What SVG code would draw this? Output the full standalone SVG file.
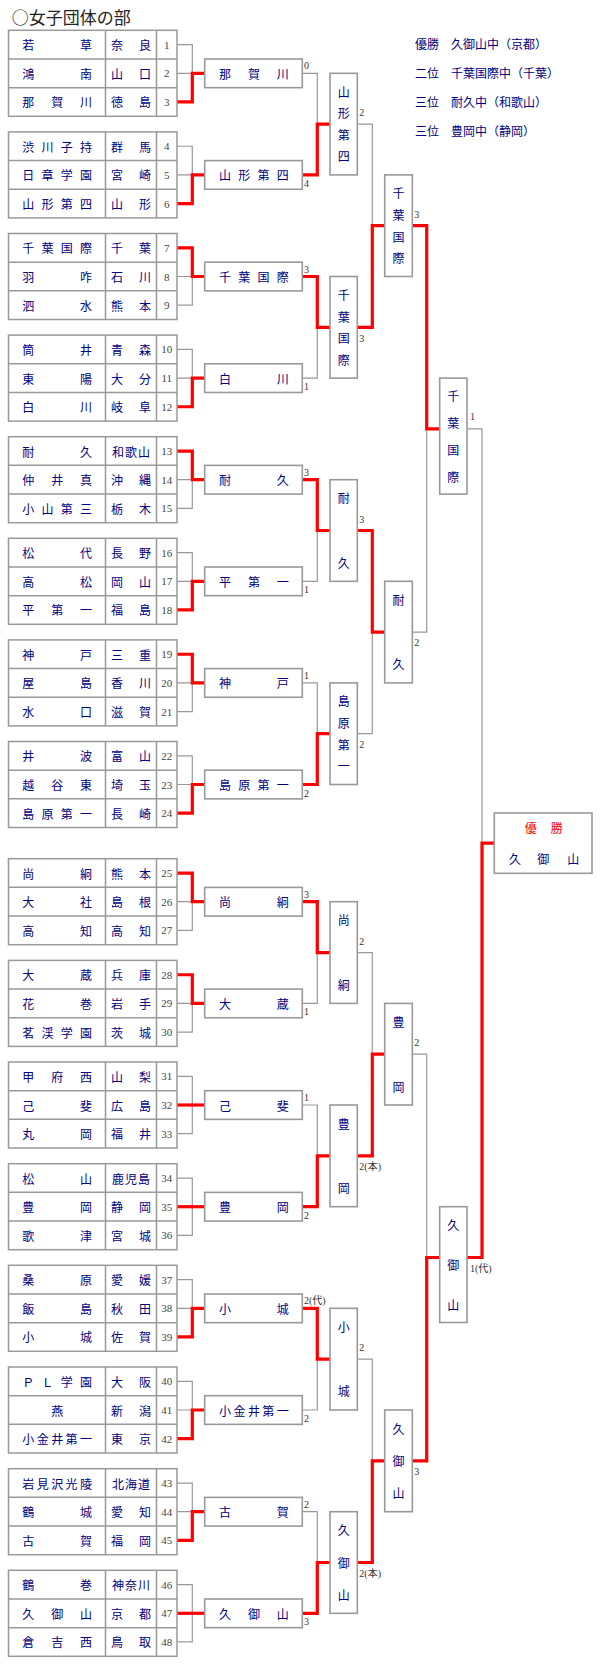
<svg xmlns="http://www.w3.org/2000/svg" width="600" height="1680" viewBox="0 0 600 1680">
<style>
.cell{fill:#fff;stroke:#999;stroke-width:1.5}
.grid{fill:none;stroke:#999;stroke-width:1.5}
.bx{fill:#fff;stroke:#999;stroke-width:1.6}
.nm{font-family:"Noto Sans CJK JP",sans-serif;font-size:12px;fill:#000080;text-anchor:middle;dominant-baseline:central}
.no{font-family:"Liberation Serif",serif;font-size:11px;fill:#444;text-anchor:middle;dominant-baseline:central}
.sc{font-family:"Liberation Serif","Noto Sans CJK JP",serif;font-size:10px;fill:#333}
.gl{fill:none;stroke:#999;stroke-width:1.2}
.rd{fill:none;stroke:#f00;stroke-width:3.2;stroke-linejoin:miter}
.ttl{font-family:"Noto Sans CJK JP",sans-serif;font-size:17px;fill:#222;dominant-baseline:central}
.res{font-family:"Noto Sans CJK JP",sans-serif;font-size:12px;fill:#000080;dominant-baseline:central}
</style>
<rect width="600" height="1680" fill="#fff"/>
<text class="ttl" x="11.7" y="16.7">○女子団体の部</text>
<g id="results">
<text class="res" x="415" y="43.3">優勝　久御山中（京都）</text>
<text class="res" x="415" y="72.7">二位　千葉国際中（千葉）</text>
<text class="res" x="415" y="101.3">三位　耐久中（和歌山）</text>
<text class="res" x="415" y="130">三位　豊岡中（静岡）</text>
</g>
<g id="connectors">
<g transform="translate(0,30.3)"><path class="gl" d="M177 14.33H192.3V71.67H177M177 43H204.7"/><path class="rd" d="M177 71.67H192.3V43H204.7"/></g>
<g transform="translate(0,131.9)"><path class="gl" d="M177 14.33H192.3V71.67H177M177 43H204.7"/><path class="rd" d="M177 71.67H192.3V43H204.7"/></g>
<g transform="translate(0,233.5)"><path class="gl" d="M177 14.33H192.3V71.67H177M177 43H204.7"/><path class="rd" d="M177 14.33H192.3V43H204.7"/></g>
<g transform="translate(0,335.1)"><path class="gl" d="M177 14.33H192.3V71.67H177M177 43H204.7"/><path class="rd" d="M177 71.67H192.3V43H204.7"/></g>
<g transform="translate(0,436.7)"><path class="gl" d="M177 14.33H192.3V71.67H177M177 43H204.7"/><path class="rd" d="M177 14.33H192.3V43H204.7"/></g>
<g transform="translate(0,538.3)"><path class="gl" d="M177 14.33H192.3V71.67H177M177 43H204.7"/><path class="rd" d="M177 71.67H192.3V43H204.7"/></g>
<g transform="translate(0,639.9)"><path class="gl" d="M177 14.33H192.3V71.67H177M177 43H204.7"/><path class="rd" d="M177 14.33H192.3V43H204.7"/></g>
<g transform="translate(0,741.5)"><path class="gl" d="M177 14.33H192.3V71.67H177M177 43H204.7"/><path class="rd" d="M177 71.67H192.3V43H204.7"/></g>
<g transform="translate(0,858.7)"><path class="gl" d="M177 14.33H192.3V71.67H177M177 43H204.7"/><path class="rd" d="M177 14.33H192.3V43H204.7"/></g>
<g transform="translate(0,960.4)"><path class="gl" d="M177 14.33H192.3V71.67H177M177 43H204.7"/><path class="rd" d="M177 14.33H192.3V43H204.7"/></g>
<g transform="translate(0,1062)"><path class="gl" d="M177 14.33H192.3V71.67H177M177 43H204.7"/><path class="rd" d="M177 43H204.7"/></g>
<g transform="translate(0,1163.7)"><path class="gl" d="M177 14.33H192.3V71.67H177M177 43H204.7"/><path class="rd" d="M177 43H204.7"/></g>
<g transform="translate(0,1265.3)"><path class="gl" d="M177 14.33H192.3V71.67H177M177 43H204.7"/><path class="rd" d="M177 71.67H192.3V43H204.7"/></g>
<g transform="translate(0,1367)"><path class="gl" d="M177 14.33H192.3V71.67H177M177 43H204.7"/><path class="rd" d="M177 71.67H192.3V43H204.7"/></g>
<g transform="translate(0,1468.7)"><path class="gl" d="M177 14.33H192.3V71.67H177M177 43H204.7"/><path class="rd" d="M177 71.67H192.3V43H204.7"/></g>
<g transform="translate(0,1570.3)"><path class="gl" d="M177 14.33H192.3V71.67H177M177 43H204.7"/><path class="rd" d="M177 43H204.7"/></g>
<path class="gl" d="M302.3 73.3H317.3V174.9H302.3M317.3 124.1H330"/><path class="rd" d="M302.3 174.9H317.3V124.1H330"/>
<path class="gl" d="M302.3 276.5H317.3V378.1H302.3M317.3 327.3H330"/><path class="rd" d="M302.3 276.5H317.3V327.3H330"/>
<path class="gl" d="M302.3 479.7H317.3V581.3H302.3M317.3 530.5H330"/><path class="rd" d="M302.3 479.7H317.3V530.5H330"/>
<path class="gl" d="M302.3 682.9H317.3V784.5H302.3M317.3 733.7H330"/><path class="rd" d="M302.3 784.5H317.3V733.7H330"/>
<path class="gl" d="M302.3 901.7H317.3V1003.4H302.3M317.3 952.55H330"/><path class="rd" d="M302.3 901.7H317.3V952.55H330"/>
<path class="gl" d="M302.3 1105H317.3V1206.7H302.3M317.3 1155.85H330"/><path class="rd" d="M302.3 1206.7H317.3V1155.85H330"/>
<path class="gl" d="M302.3 1308.3H317.3V1410H302.3M317.3 1359.15H330"/><path class="rd" d="M302.3 1308.3H317.3V1359.15H330"/>
<path class="gl" d="M302.3 1511.7H317.3V1613.3H302.3M317.3 1562.5H330"/><path class="rd" d="M302.3 1613.3H317.3V1562.5H330"/>
<path class="gl" d="M357.3 124.1H372.3V327.3H357.3M372.3 225.7H384.7"/><path class="rd" d="M357.3 327.3H372.3V225.7H384.7"/>
<path class="gl" d="M357.3 530.5H372.3V733.7H357.3M372.3 632.1H384.7"/><path class="rd" d="M357.3 530.5H372.3V632.1H384.7"/>
<path class="gl" d="M357.3 952.55H372.3V1155.85H357.3M372.3 1054.2H384.7"/><path class="rd" d="M357.3 1155.85H372.3V1054.2H384.7"/>
<path class="gl" d="M357.3 1359.15H372.3V1562.5H357.3M372.3 1460.8H384.7"/><path class="rd" d="M357.3 1562.5H372.3V1460.8H384.7"/>
<path class="gl" d="M412.3 225.7H426.7V632.1H412.3M426.7 428.9H439.7"/><path class="rd" d="M412.3 225.7H426.7V428.9H439.7"/>
<path class="gl" d="M412.3 1054.2H426.7V1460.8H412.3M426.7 1257.5H439.7"/><path class="rd" d="M412.3 1460.8H426.7V1257.5H439.7"/>
<path class="gl" d="M467 428.9H482V1257.5H467M482 843.2H494.3"/><path class="rd" d="M467 1257.5H482V843.2H494.3"/>
</g>
<g id="pool1" transform="translate(0,30.3)"><rect class="cell" x="8.5" y="0" width="168.5" height="86"/><path class="grid" d="M8.5 28.67H177M8.5 57.33H177M105.5 0V86M156.5 0V86"/>
<text class="nm" x="28.3 86" y="14.33">若草</text><text class="nm" x="117 145" y="14.33">奈良</text><text class="no" x="166.7" y="14.33">1</text>
<text class="nm" x="28.3 86" y="43">鴻南</text><text class="nm" x="117 145" y="43">山口</text><text class="no" x="166.7" y="43">2</text>
<text class="nm" x="28.3 57.2 86" y="71.67">那賀川</text><text class="nm" x="117 145" y="71.67">徳島</text><text class="no" x="166.7" y="71.67">3</text></g>
<g id="pool2" transform="translate(0,131.9)"><rect class="cell" x="8.5" y="0" width="168.5" height="86"/><path class="grid" d="M8.5 28.67H177M8.5 57.33H177M105.5 0V86M156.5 0V86"/>
<text class="nm" x="28.3 47.5 66.8 86" y="14.33">渋川子持</text><text class="nm" x="117 145" y="14.33">群馬</text><text class="no" x="166.7" y="14.33">4</text>
<text class="nm" x="28.3 47.5 66.8 86" y="43">日章学園</text><text class="nm" x="117 145" y="43">宮崎</text><text class="no" x="166.7" y="43">5</text>
<text class="nm" x="28.3 47.5 66.8 86" y="71.67">山形第四</text><text class="nm" x="117 145" y="71.67">山形</text><text class="no" x="166.7" y="71.67">6</text></g>
<g id="pool3" transform="translate(0,233.5)"><rect class="cell" x="8.5" y="0" width="168.5" height="86"/><path class="grid" d="M8.5 28.67H177M8.5 57.33H177M105.5 0V86M156.5 0V86"/>
<text class="nm" x="28.3 47.5 66.8 86" y="14.33">千葉国際</text><text class="nm" x="117 145" y="14.33">千葉</text><text class="no" x="166.7" y="14.33">7</text>
<text class="nm" x="28.3 86" y="43">羽咋</text><text class="nm" x="117 145" y="43">石川</text><text class="no" x="166.7" y="43">8</text>
<text class="nm" x="28.3 86" y="71.67">泗水</text><text class="nm" x="117 145" y="71.67">熊本</text><text class="no" x="166.7" y="71.67">9</text></g>
<g id="pool4" transform="translate(0,335.1)"><rect class="cell" x="8.5" y="0" width="168.5" height="86"/><path class="grid" d="M8.5 28.67H177M8.5 57.33H177M105.5 0V86M156.5 0V86"/>
<text class="nm" x="28.3 86" y="14.33">筒井</text><text class="nm" x="117 145" y="14.33">青森</text><text class="no" x="166.7" y="14.33">10</text>
<text class="nm" x="28.3 86" y="43">東陽</text><text class="nm" x="117 145" y="43">大分</text><text class="no" x="166.7" y="43">11</text>
<text class="nm" x="28.3 86" y="71.67">白川</text><text class="nm" x="117 145" y="71.67">岐阜</text><text class="no" x="166.7" y="71.67">12</text></g>
<g id="pool5" transform="translate(0,436.7)"><rect class="cell" x="8.5" y="0" width="168.5" height="86"/><path class="grid" d="M8.5 28.67H177M8.5 57.33H177M105.5 0V86M156.5 0V86"/>
<text class="nm" x="28.3 86" y="14.33">耐久</text><text class="nm" x="118 131 144" y="14.33">和歌山</text><text class="no" x="166.7" y="14.33">13</text>
<text class="nm" x="28.3 57.2 86" y="43">仲井真</text><text class="nm" x="117 145" y="43">沖縄</text><text class="no" x="166.7" y="43">14</text>
<text class="nm" x="28.3 47.5 66.8 86" y="71.67">小山第三</text><text class="nm" x="117 145" y="71.67">栃木</text><text class="no" x="166.7" y="71.67">15</text></g>
<g id="pool6" transform="translate(0,538.3)"><rect class="cell" x="8.5" y="0" width="168.5" height="86"/><path class="grid" d="M8.5 28.67H177M8.5 57.33H177M105.5 0V86M156.5 0V86"/>
<text class="nm" x="28.3 86" y="14.33">松代</text><text class="nm" x="117 145" y="14.33">長野</text><text class="no" x="166.7" y="14.33">16</text>
<text class="nm" x="28.3 86" y="43">高松</text><text class="nm" x="117 145" y="43">岡山</text><text class="no" x="166.7" y="43">17</text>
<text class="nm" x="28.3 57.2 86" y="71.67">平第一</text><text class="nm" x="117 145" y="71.67">福島</text><text class="no" x="166.7" y="71.67">18</text></g>
<g id="pool7" transform="translate(0,639.9)"><rect class="cell" x="8.5" y="0" width="168.5" height="86"/><path class="grid" d="M8.5 28.67H177M8.5 57.33H177M105.5 0V86M156.5 0V86"/>
<text class="nm" x="28.3 86" y="14.33">神戸</text><text class="nm" x="117 145" y="14.33">三重</text><text class="no" x="166.7" y="14.33">19</text>
<text class="nm" x="28.3 86" y="43">屋島</text><text class="nm" x="117 145" y="43">香川</text><text class="no" x="166.7" y="43">20</text>
<text class="nm" x="28.3 86" y="71.67">水口</text><text class="nm" x="117 145" y="71.67">滋賀</text><text class="no" x="166.7" y="71.67">21</text></g>
<g id="pool8" transform="translate(0,741.5)"><rect class="cell" x="8.5" y="0" width="168.5" height="86"/><path class="grid" d="M8.5 28.67H177M8.5 57.33H177M105.5 0V86M156.5 0V86"/>
<text class="nm" x="28.3 86" y="14.33">井波</text><text class="nm" x="117 145" y="14.33">富山</text><text class="no" x="166.7" y="14.33">22</text>
<text class="nm" x="28.3 57.2 86" y="43">越谷東</text><text class="nm" x="117 145" y="43">埼玉</text><text class="no" x="166.7" y="43">23</text>
<text class="nm" x="28.3 47.5 66.8 86" y="71.67">島原第一</text><text class="nm" x="117 145" y="71.67">長崎</text><text class="no" x="166.7" y="71.67">24</text></g>
<g id="pool9" transform="translate(0,858.7)"><rect class="cell" x="8.5" y="0" width="168.5" height="86"/><path class="grid" d="M8.5 28.67H177M8.5 57.33H177M105.5 0V86M156.5 0V86"/>
<text class="nm" x="28.3 86" y="14.33">尚絅</text><text class="nm" x="117 145" y="14.33">熊本</text><text class="no" x="166.7" y="14.33">25</text>
<text class="nm" x="28.3 86" y="43">大社</text><text class="nm" x="117 145" y="43">島根</text><text class="no" x="166.7" y="43">26</text>
<text class="nm" x="28.3 86" y="71.67">高知</text><text class="nm" x="117 145" y="71.67">高知</text><text class="no" x="166.7" y="71.67">27</text></g>
<g id="pool10" transform="translate(0,960.4)"><rect class="cell" x="8.5" y="0" width="168.5" height="86"/><path class="grid" d="M8.5 28.67H177M8.5 57.33H177M105.5 0V86M156.5 0V86"/>
<text class="nm" x="28.3 86" y="14.33">大蔵</text><text class="nm" x="117 145" y="14.33">兵庫</text><text class="no" x="166.7" y="14.33">28</text>
<text class="nm" x="28.3 86" y="43">花巻</text><text class="nm" x="117 145" y="43">岩手</text><text class="no" x="166.7" y="43">29</text>
<text class="nm" x="28.3 47.5 66.8 86" y="71.67">茗渓学園</text><text class="nm" x="117 145" y="71.67">茨城</text><text class="no" x="166.7" y="71.67">30</text></g>
<g id="pool11" transform="translate(0,1062)"><rect class="cell" x="8.5" y="0" width="168.5" height="86"/><path class="grid" d="M8.5 28.67H177M8.5 57.33H177M105.5 0V86M156.5 0V86"/>
<text class="nm" x="28.3 57.2 86" y="14.33">甲府西</text><text class="nm" x="117 145" y="14.33">山梨</text><text class="no" x="166.7" y="14.33">31</text>
<text class="nm" x="28.3 86" y="43">己斐</text><text class="nm" x="117 145" y="43">広島</text><text class="no" x="166.7" y="43">32</text>
<text class="nm" x="28.3 86" y="71.67">丸岡</text><text class="nm" x="117 145" y="71.67">福井</text><text class="no" x="166.7" y="71.67">33</text></g>
<g id="pool12" transform="translate(0,1163.7)"><rect class="cell" x="8.5" y="0" width="168.5" height="86"/><path class="grid" d="M8.5 28.67H177M8.5 57.33H177M105.5 0V86M156.5 0V86"/>
<text class="nm" x="28.3 86" y="14.33">松山</text><text class="nm" x="118 131 144" y="14.33">鹿児島</text><text class="no" x="166.7" y="14.33">34</text>
<text class="nm" x="28.3 86" y="43">豊岡</text><text class="nm" x="117 145" y="43">静岡</text><text class="no" x="166.7" y="43">35</text>
<text class="nm" x="28.3 86" y="71.67">歌津</text><text class="nm" x="117 145" y="71.67">宮城</text><text class="no" x="166.7" y="71.67">36</text></g>
<g id="pool13" transform="translate(0,1265.3)"><rect class="cell" x="8.5" y="0" width="168.5" height="86"/><path class="grid" d="M8.5 28.67H177M8.5 57.33H177M105.5 0V86M156.5 0V86"/>
<text class="nm" x="28.3 86" y="14.33">桑原</text><text class="nm" x="117 145" y="14.33">愛媛</text><text class="no" x="166.7" y="14.33">37</text>
<text class="nm" x="28.3 86" y="43">飯島</text><text class="nm" x="117 145" y="43">秋田</text><text class="no" x="166.7" y="43">38</text>
<text class="nm" x="28.3 86" y="71.67">小城</text><text class="nm" x="117 145" y="71.67">佐賀</text><text class="no" x="166.7" y="71.67">39</text></g>
<g id="pool14" transform="translate(0,1367)"><rect class="cell" x="8.5" y="0" width="168.5" height="86"/><path class="grid" d="M8.5 28.67H177M8.5 57.33H177M105.5 0V86M156.5 0V86"/>
<text class="nm" x="28.3 47.5 66.8 86" y="14.33">ＰＬ学園</text><text class="nm" x="117 145" y="14.33">大阪</text><text class="no" x="166.7" y="14.33">40</text>
<text class="nm" x="57.2" y="43">燕</text><text class="nm" x="117 145" y="43">新潟</text><text class="no" x="166.7" y="43">41</text>
<text class="nm" x="28.3 42.7 57.2 71.6 86" y="71.67">小金井第一</text><text class="nm" x="117 145" y="71.67">東京</text><text class="no" x="166.7" y="71.67">42</text></g>
<g id="pool15" transform="translate(0,1468.7)"><rect class="cell" x="8.5" y="0" width="168.5" height="86"/><path class="grid" d="M8.5 28.67H177M8.5 57.33H177M105.5 0V86M156.5 0V86"/>
<text class="nm" x="28.3 42.7 57.2 71.6 86" y="14.33">岩見沢光陵</text><text class="nm" x="118 131 144" y="14.33">北海道</text><text class="no" x="166.7" y="14.33">43</text>
<text class="nm" x="28.3 86" y="43">鶴城</text><text class="nm" x="117 145" y="43">愛知</text><text class="no" x="166.7" y="43">44</text>
<text class="nm" x="28.3 86" y="71.67">古賀</text><text class="nm" x="117 145" y="71.67">福岡</text><text class="no" x="166.7" y="71.67">45</text></g>
<g id="pool16" transform="translate(0,1570.3)"><rect class="cell" x="8.5" y="0" width="168.5" height="86"/><path class="grid" d="M8.5 28.67H177M8.5 57.33H177M105.5 0V86M156.5 0V86"/>
<text class="nm" x="28.3 86" y="14.33">鶴巻</text><text class="nm" x="118 131 144" y="14.33">神奈川</text><text class="no" x="166.7" y="14.33">46</text>
<text class="nm" x="28.3 57.2 86" y="43">久御山</text><text class="nm" x="117 145" y="43">京都</text><text class="no" x="166.7" y="43">47</text>
<text class="nm" x="28.3 57.2 86" y="71.67">倉吉西</text><text class="nm" x="117 145" y="71.67">鳥取</text><text class="no" x="166.7" y="71.67">48</text></g>
<g id="r2-1"><rect class="bx" x="204.7" y="59" width="97.6" height="28.67"/><text class="nm" x="225 253.9 282.7" y="73.3">那賀川</text><text class="sc" x="304" y="69.3">0</text></g>
<g id="r2-2"><rect class="bx" x="204.7" y="160.6" width="97.6" height="28.67"/><text class="nm" x="225 244.2 263.5 282.7" y="174.9">山形第四</text><text class="sc" x="304" y="186.9">4</text></g>
<g id="r2-3"><rect class="bx" x="204.7" y="262.2" width="97.6" height="28.67"/><text class="nm" x="225 244.2 263.5 282.7" y="276.5">千葉国際</text><text class="sc" x="304" y="272.5">3</text></g>
<g id="r2-4"><rect class="bx" x="204.7" y="363.8" width="97.6" height="28.67"/><text class="nm" x="225 282.7" y="378.1">白川</text><text class="sc" x="304" y="390.1">1</text></g>
<g id="r2-5"><rect class="bx" x="204.7" y="465.4" width="97.6" height="28.67"/><text class="nm" x="225 282.7" y="479.7">耐久</text><text class="sc" x="304" y="475.7">3</text></g>
<g id="r2-6"><rect class="bx" x="204.7" y="567" width="97.6" height="28.67"/><text class="nm" x="225 253.9 282.7" y="581.3">平第一</text><text class="sc" x="304" y="593.3">1</text></g>
<g id="r2-7"><rect class="bx" x="204.7" y="668.6" width="97.6" height="28.67"/><text class="nm" x="225 282.7" y="682.9">神戸</text><text class="sc" x="304" y="678.9">1</text></g>
<g id="r2-8"><rect class="bx" x="204.7" y="770.2" width="97.6" height="28.67"/><text class="nm" x="225 244.2 263.5 282.7" y="784.5">島原第一</text><text class="sc" x="304" y="796.5">2</text></g>
<g id="r2-9"><rect class="bx" x="204.7" y="887.4" width="97.6" height="28.67"/><text class="nm" x="225 282.7" y="901.7">尚絅</text><text class="sc" x="304" y="897.7">3</text></g>
<g id="r2-10"><rect class="bx" x="204.7" y="989.1" width="97.6" height="28.67"/><text class="nm" x="225 282.7" y="1003.4">大蔵</text><text class="sc" x="304" y="1015.4">1</text></g>
<g id="r2-11"><rect class="bx" x="204.7" y="1090.7" width="97.6" height="28.67"/><text class="nm" x="225 282.7" y="1105">己斐</text><text class="sc" x="304" y="1101">1</text></g>
<g id="r2-12"><rect class="bx" x="204.7" y="1192.4" width="97.6" height="28.67"/><text class="nm" x="225 282.7" y="1206.7">豊岡</text><text class="sc" x="304" y="1218.7">2</text></g>
<g id="r2-13"><rect class="bx" x="204.7" y="1294" width="97.6" height="28.67"/><text class="nm" x="225 282.7" y="1308.3">小城</text><text class="sc" x="304" y="1304.3">2(代)</text></g>
<g id="r2-14"><rect class="bx" x="204.7" y="1395.7" width="97.6" height="28.67"/><text class="nm" x="225 239.4 253.9 268.3 282.7" y="1410">小金井第一</text><text class="sc" x="304" y="1422">2</text></g>
<g id="r2-15"><rect class="bx" x="204.7" y="1497.4" width="97.6" height="28.67"/><text class="nm" x="225 282.7" y="1511.7">古賀</text><text class="sc" x="304" y="1507.7">2</text></g>
<g id="r2-16"><rect class="bx" x="204.7" y="1599" width="97.6" height="28.67"/><text class="nm" x="225 253.9 282.7" y="1613.3">久御山</text><text class="sc" x="304" y="1625.3">3</text></g>
<g id="r3-1"><rect class="bx" x="330" y="73.3" width="27.3" height="101.6"/><text class="nm" x="343.65 343.65 343.65 343.65" y="91.3 112.8 134.4 155.9">山形第四</text><text class="sc" x="359.3" y="116.1">2</text></g>
<g id="r3-2"><rect class="bx" x="330" y="276.5" width="27.3" height="101.6"/><text class="nm" x="343.65 343.65 343.65 343.65" y="294.5 316 337.6 359.1">千葉国際</text><text class="sc" x="359.3" y="341.8">3</text></g>
<g id="r3-3"><rect class="bx" x="330" y="479.7" width="27.3" height="101.6"/><text class="nm" x="343.65 343.65" y="497.7 562.3">耐久</text><text class="sc" x="359.3" y="522.5">3</text></g>
<g id="r3-4"><rect class="bx" x="330" y="682.9" width="27.3" height="101.6"/><text class="nm" x="343.65 343.65 343.65 343.65" y="700.9 722.4 744 765.5">島原第一</text><text class="sc" x="359.3" y="748.2">2</text></g>
<g id="r3-5"><rect class="bx" x="330" y="901.7" width="27.3" height="101.7"/><text class="nm" x="343.65 343.65" y="919.7 984.3">尚絅</text><text class="sc" x="359.3" y="944.5">2</text></g>
<g id="r3-6"><rect class="bx" x="330" y="1105" width="27.3" height="101.7"/><text class="nm" x="343.65 343.65" y="1123 1187.6">豊岡</text><text class="sc" x="359.3" y="1170">2(本)</text></g>
<g id="r3-7"><rect class="bx" x="330" y="1308.3" width="27.3" height="101.7"/><text class="nm" x="343.65 343.65" y="1326.3 1390.9">小城</text><text class="sc" x="359.3" y="1351.1">2</text></g>
<g id="r3-8"><rect class="bx" x="330" y="1511.7" width="27.3" height="101.6"/><text class="nm" x="343.65 343.65 343.65" y="1529.7 1562 1594.3">久御山</text><text class="sc" x="359.3" y="1576.7">2(本)</text></g>
<g id="r4-1"><rect class="bx" x="384.7" y="174.9" width="27.6" height="101.6"/><text class="nm" x="398.5 398.5 398.5 398.5" y="192.9 214.4 236 257.5">千葉国際</text><text class="sc" x="414.3" y="217.7">3</text></g>
<g id="r4-2"><rect class="bx" x="384.7" y="581.3" width="27.6" height="101.6"/><text class="nm" x="398.5 398.5" y="599.3 663.9">耐久</text><text class="sc" x="414.3" y="646.1">2</text></g>
<g id="r4-3"><rect class="bx" x="384.7" y="1003.4" width="27.6" height="101.6"/><text class="nm" x="398.5 398.5" y="1021.4 1086">豊岡</text><text class="sc" x="414.3" y="1046.2">2</text></g>
<g id="r4-4"><rect class="bx" x="384.7" y="1410" width="27.6" height="101.7"/><text class="nm" x="398.5 398.5 398.5" y="1428 1460.3 1492.6">久御山</text><text class="sc" x="414.3" y="1474.8">3</text></g>
<g id="r5-1"><rect class="bx" x="439.7" y="378.1" width="27.3" height="116"/><text class="nm" x="453.35 453.35 453.35 453.35" y="395.4 422.3 449.2 476.1">千葉国際</text><text class="sc" x="470" y="420.4">1</text></g>
<g id="r5-2"><rect class="bx" x="439.7" y="1206.7" width="27.3" height="115.8"/><text class="nm" x="453.35 453.35 453.35" y="1224.2 1264.4 1304.5">久御山</text><text class="sc" x="470" y="1271.5">1(代)</text></g>
<g id="champion"><rect class="bx" x="494.3" y="813" width="97.7" height="60.3"/><text class="nm" x="530.7 556.7" y="827.7" style="fill:#f00">優勝</text><text class="nm" x="515 543.3 573.3" y="858.3">久御山</text></g>
</svg>
